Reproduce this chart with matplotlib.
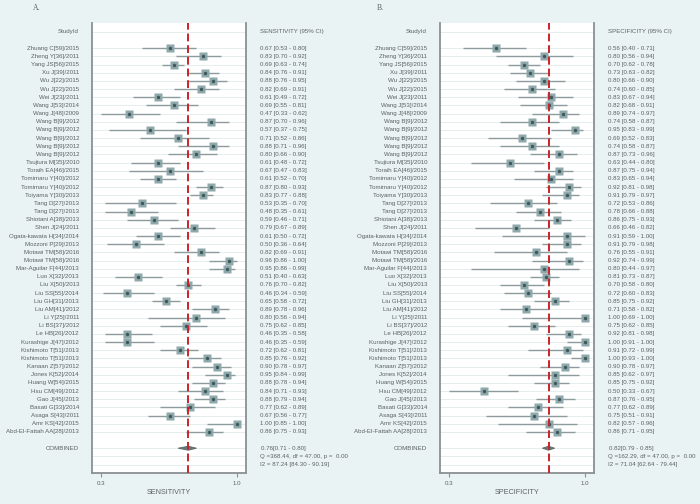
import numpy as np
import matplotlib.pyplot as plt
from matplotlib import transforms
from matplotlib.patches import Polygon

plt.rcParams['font.family'] = ['Liberation Sans', 'DejaVu Sans']

studies = ['Zhuang C[59]/2015', 'Zheng Y[36]/2011', 'Yang JS[56]/2015', 'Xu J[39]/2011',
           'Wu J[22]/2015', 'Wu J[22]/2015', 'Wei J[23]/2011', 'Wang J[53]/2014',
           'Wang J[48]/2009', 'Wang B[9]/2012', 'Wang B[9]/2012', 'Wang B[9]/2012',
           'Wang B[9]/2012', 'Wang B[9]/2012', 'Tsujiura M[35]/2010', 'Toraih EA[46]/2015',
           'Tomimaru Y[40]/2012', 'Tomimaru Y[40]/2012', 'Toiyama Y[30]/2013', 'Tang D[27]/2013',
           'Tang D[27]/2013', 'Shiotani A[38]/2013', 'Shen J[24]/2011', 'Ogata-kawata H[34]/2014',
           'Mozzoni P[29]/2013', 'Motawi TM[58]/2016', 'Motawi TM[58]/2016', 'Mar-Aguilar F[44]/2013',
           'Luo X[32]/2013', 'Liu X[50]/2013', 'Liu SS[55]/2014', 'Liu GH[31]/2013',
           'Liu AM[41]/2012', 'Li Y[25]/2011', 'Li BS[37]/2012', 'Le HB[26]/2012',
           'Kurashige J[47]/2012', 'Kishimoto T[51]/2013', 'Kishimoto T[51]/2013', 'Kanaan Z[57]/2012',
           'Jones K[52]/2014', 'Huang W[54]/2015', 'Hsu CM[49]/2012', 'Gao J[45]/2013',
           'Basati G[33]/2014', 'Asaga S[43]/2011', 'Amr KS[42]/2015', 'Abd-El-Fattah AA[28]/2013']

sens = [0.67, 0.83, 0.69, 0.84, 0.88, 0.82, 0.61, 0.69, 0.47, 0.87, 0.57, 0.71, 0.88, 0.80,
        0.61, 0.67, 0.61, 0.87, 0.83, 0.53, 0.48, 0.59, 0.79, 0.61, 0.50, 0.82, 0.96, 0.95,
        0.51, 0.76, 0.46, 0.65, 0.89, 0.80, 0.75, 0.46, 0.46, 0.72, 0.85, 0.90, 0.95, 0.88,
        0.84, 0.88, 0.77, 0.67, 1.00, 0.86]
sens_lo = [0.53, 0.70, 0.63, 0.76, 0.76, 0.69, 0.49, 0.55, 0.33, 0.70, 0.37, 0.52, 0.71, 0.66,
           0.48, 0.47, 0.52, 0.80, 0.77, 0.35, 0.35, 0.46, 0.67, 0.50, 0.36, 0.69, 0.86, 0.86,
           0.40, 0.70, 0.34, 0.58, 0.78, 0.56, 0.62, 0.35, 0.35, 0.62, 0.76, 0.78, 0.84, 0.78,
           0.71, 0.79, 0.62, 0.56, 0.85, 0.75]
sens_hi = [0.80, 0.92, 0.74, 0.91, 0.95, 0.91, 0.72, 0.81, 0.62, 0.96, 0.75, 0.86, 0.96, 0.90,
           0.72, 0.83, 0.70, 0.93, 0.88, 0.70, 0.61, 0.71, 0.89, 0.72, 0.64, 0.91, 1.00, 0.99,
           0.63, 0.82, 0.59, 0.72, 0.96, 0.94, 0.85, 0.58, 0.59, 0.81, 0.92, 0.97, 0.99, 0.94,
           0.93, 0.94, 0.89, 0.77, 1.00, 0.93]

spec = [0.56, 0.80, 0.70, 0.73, 0.80, 0.74, 0.83, 0.82, 0.89, 0.74, 0.95, 0.69, 0.74, 0.87,
        0.63, 0.87, 0.83, 0.92, 0.91, 0.72, 0.78, 0.86, 0.66, 0.91, 0.91, 0.76, 0.92, 0.80,
        0.81, 0.70, 0.72, 0.85, 0.71, 1.00, 0.75, 0.92, 1.00, 0.91, 1.00, 0.90, 0.85, 0.85,
        0.50, 0.87, 0.77, 0.75, 0.82, 0.86]
spec_lo = [0.40, 0.56, 0.62, 0.63, 0.66, 0.60, 0.67, 0.68, 0.74, 0.58, 0.83, 0.52, 0.58, 0.73,
           0.44, 0.75, 0.65, 0.81, 0.79, 0.53, 0.66, 0.75, 0.46, 0.59, 0.79, 0.55, 0.74, 0.44,
           0.73, 0.58, 0.60, 0.75, 0.58, 0.69, 0.62, 0.81, 0.91, 0.72, 0.93, 0.78, 0.62, 0.75,
           0.33, 0.76, 0.62, 0.51, 0.57, 0.71]
spec_hi = [0.71, 0.94, 0.78, 0.82, 0.90, 0.85, 0.94, 0.91, 0.97, 0.87, 0.99, 0.83, 0.87, 0.96,
           0.80, 0.94, 0.94, 0.98, 0.97, 0.86, 0.88, 0.93, 0.82, 1.00, 0.98, 0.91, 0.99, 0.97,
           0.87, 0.80, 0.83, 0.92, 0.82, 1.00, 0.85, 0.98, 1.00, 0.99, 1.00, 0.97, 0.97, 0.92,
           0.67, 0.95, 0.89, 0.91, 0.96, 0.95]

sens_pool = [0.76, 0.71, 0.80]
spec_pool = [0.82, 0.79, 0.85]
sens_stats = ['Q =368.44, df = 47.00, p =  0.00', 'I2 = 87.24 [84.30 - 90.19]']
spec_stats = ['Q =162.29, df = 47.00, p =  0.00', 'I2 = 71.04 [62.64 - 79.44]']

W, H = 700, 504
bg = '#EAF3F4'
txt = '#5a6163'
fs = 4.4

fig = plt.figure(figsize=(7, 5.04), dpi=100, facecolor=bg)


def panel(ax_x, lab_x, val_x, let_x, letter, est, lo, hi, pool, name, stats):
    ax = fig.add_axes([ax_x / W, 1 - 472.7 / H, 154 / W, (472.7 - 23) / H])
    ax.set_facecolor('white')
    ax.set_xlim(0.2857, 1.044)
    ax.set_ylim(54.0, -1.1)
    n = len(est)
    rows = np.arange(n) + 2
    grid_rows = [0] + list(rows) + [n + 3, n + 4, n + 5]
    for r in grid_rows:
        ax.axhline(r, color='#e6eded', lw=0.7, zorder=0)
    ax.hlines(rows, lo, hi, color='#8e9b9c', lw=1.0, zorder=2)
    ax.plot(est, rows, 's', color='#8fa8ab', ms=5.2, mec='none', zorder=3)
    ax.plot(est, rows, 'o', color='#3f585a', ms=2.5, mec='none', zorder=4)
    rc = n + 3
    ax.add_patch(Polygon([(pool[1], rc), (pool[0], rc - 0.24), (pool[2], rc), (pool[0], rc + 0.24)],
                         closed=True, fc='#6a7879', ec='#5f6d6e', lw=0.7, zorder=3))
    ax.axvline(pool[0], color='#cc2229', lw=1.4, ls=(0, (4, 2)), zorder=5)

    ax.spines['top'].set_visible(False)
    for s in ['left', 'right', 'bottom']:
        ax.spines[s].set_color('#8a9192')
        ax.spines[s].set_linewidth(1.3)
    ax.set_yticks([])
    ax.set_xticks([0.33, 1.0])
    ax.set_xticklabels(['0.3', '1.0'])
    ax.tick_params(axis='x', colors='#8a9192', labelcolor=txt, labelsize=fs, length=3, width=0.8, pad=3)
    ax.set_xlabel(name, fontsize=5.2, color=txt, labelpad=2)

    tr_l = transforms.blended_transform_factory(fig.transFigure, ax.transData)
    ax.text(lab_x / W, 0, 'StudyId', transform=tr_l, ha='right', va='center', fontsize=fs, color=txt)
    ax.text(val_x / W, 0, name + ' (95% CI)', transform=tr_l, ha='left', va='center', fontsize=fs, color=txt)
    for i in range(n):
        ax.text(lab_x / W, rows[i], studies[i], transform=tr_l, ha='right', va='center',
                fontsize=fs, color=txt)
        ax.text(val_x / W, rows[i], '%.2f [%.2f - %.2f]' % (est[i], lo[i], hi[i]), transform=tr_l,
                ha='left', va='center', fontsize=fs, color=txt)
    ax.text(lab_x / W, rc, 'COMBINED', transform=tr_l, ha='right', va='center', fontsize=fs, color=txt)
    ax.text(val_x / W + 0.001, rc, '%.2f[%.2f - %.2f]' % tuple(pool), transform=tr_l,
            ha='left', va='center', fontsize=fs, color=txt)
    ax.text(val_x / W, rc + 1, stats[0], transform=tr_l, ha='left', va='center', fontsize=fs, color=txt)
    ax.text(val_x / W, rc + 2, stats[1], transform=tr_l, ha='left', va='center', fontsize=fs, color=txt)
    fig.text(let_x / W, 1 - 8 / H, letter, ha='left', va='center', fontsize=5.5, color=txt,
             family='Liberation Serif')


panel(92, 79, 260, 33, 'A.', sens, sens_lo, sens_hi, sens_pool, 'SENSITIVITY', sens_stats)
panel(440, 427, 608, 377, 'B.', spec, spec_lo, spec_hi, spec_pool, 'SPECIFICITY', spec_stats)

fig.savefig('out.png', dpi=100, facecolor=bg)
